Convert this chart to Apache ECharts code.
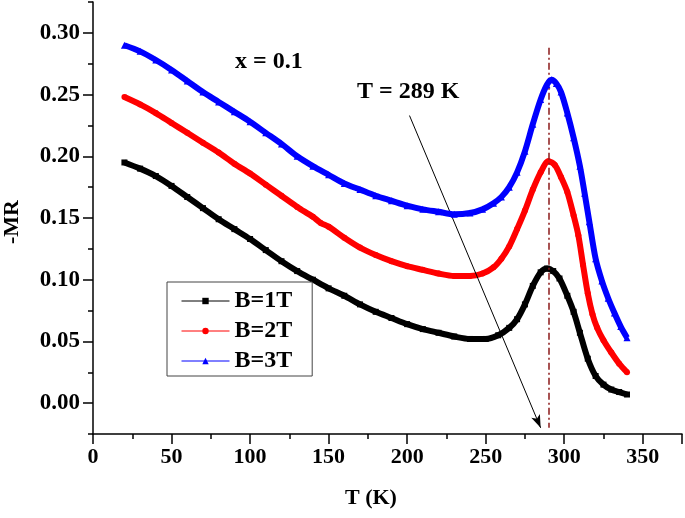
<!DOCTYPE html>
<html>
<head>
<meta charset="utf-8">
<script src="https://cdn.jsdelivr.net/npm/echarts@6/dist/echarts.min.js"></script>
<style>html,body{margin:0;padding:0;background:#fff;}#c{width:685px;height:518px;}</style>
</head>
<body>
<div id="c"></div>
<script>
// ---- data ----
const seriesNames = ['B=1T', 'B=2T', 'B=3T'];

const tB1 = [20,30,40,50,60,70,80,90,100,110,120,130,140,150,160,170,180,190,200,210,220,230,240,250,258,265,270,275,280,285,289,293,297,302,306,310,315,320,325,330,335,340];
const mrB1 = [0.195,0.190,0.184,0.176,0.167,0.158,0.149,0.141,0.133,0.124,0.115,0.107,0.100,0.093,0.087,0.080,0.074,0.069,0.064,0.060,0.057,0.054,0.052,0.052,0.055,0.061,0.068,0.080,0.095,0.106,0.109,0.107,0.101,0.087,0.074,0.057,0.036,0.022,0.015,0.011,0.009,0.007];

const tB2 = [20,30,40,50,60,70,80,90,100,110,120,130,140,145,150,160,170,180,190,200,210,220,230,240,248,255,260,265,270,275,280,285,290,294,298,302,306,309,312,315,318,321,325,330,335,340];
const mrB2 = [0.248,0.242,0.235,0.227,0.219,0.211,0.203,0.194,0.186,0.177,0.168,0.159,0.151,0.146,0.143,0.134,0.126,0.120,0.115,0.111,0.108,0.105,0.103,0.103,0.105,0.110,0.117,0.127,0.141,0.156,0.173,0.187,0.196,0.193,0.183,0.171,0.152,0.136,0.112,0.089,0.072,0.061,0.051,0.041,0.032,0.025];

const tB3 = [20,30,40,50,60,70,80,90,100,110,120,130,140,150,160,170,180,190,200,210,220,230,240,248,255,260,265,270,275,280,285,289,292,295,298,302,306,310,313,316,320,324,328,332,336,340];
const mrB3 = [0.290,0.285,0.278,0.270,0.261,0.252,0.244,0.236,0.228,0.219,0.210,0.200,0.192,0.185,0.178,0.173,0.168,0.164,0.160,0.157,0.155,0.153,0.154,0.157,0.162,0.167,0.175,0.187,0.204,0.226,0.246,0.258,0.262,0.259,0.252,0.235,0.215,0.192,0.170,0.147,0.117,0.099,0.085,0.073,0.062,0.053];

const xTicksMajor = [0,50,100,150,200,250,300,350];
const yTicksMajor = [0,0.05,0.10,0.15,0.20,0.25,0.30];
const yTicksMinor = [-0.025,0.025,0.075,0.125,0.175,0.225,0.275,0.325];

// annotation anchors (data space)
const arrowStart = [201.5, 0.233];
const arrowEnd = [285, -0.020];
const peakLineTop = [290, 0.288];
const peakLineBottom = [290, -0.020];

const colors = ['#000000', '#ff0000', '#0000ff'];
const symbols = ['rect', 'circle', 'triangle'];
const FONT = '"Liberation Serif", "Times New Roman", serif';

function pairs(t, v) { return t.map((x, i) => [x, v[i]]); }
const dataSets = [pairs(tB1, mrB1), pairs(tB2, mrB2), pairs(tB3, mrB3)];

const chart = echarts.init(document.getElementById('c'), null, {renderer: 'canvas'});

const series = dataSets.map((d, i) => ({
  name: seriesNames[i],
  type: 'line',
  data: d,
  xAxisIndex: 0, yAxisIndex: 0,
  smooth: 0.3,
  symbol: symbols[i],
  symbolSize: i === 2 ? 7 : 6,
  showSymbol: true,
  lineStyle: {color: colors[i], width: 6},
  itemStyle: {color: colors[i]},
  z: 3 + i
}));

series[0].markLine = {
  silent: true,
  animation: false,
  label: {show: false},
  symbol: ['none', 'none'],
  data: [
    [
      {coord: arrowStart, symbol: 'none', lineStyle: {color: '#000', width: 1, type: 'solid'}},
      {coord: arrowEnd, symbol: 'arrow', symbolSize: [7, 13]}
    ],
    [
      {coord: peakLineTop, symbol: 'none', lineStyle: {color: '#8b1a1a', width: 1.5, type: [7, 3, 2, 3]}},
      {coord: peakLineBottom, symbol: 'none'}
    ]
  ]
};

const axisLineStyle = {color: '#000', width: 1.5};

chart.setOption({
  animation: false,
  backgroundColor: '#fff',
  grid: {left: 93, right: 2, top: 2, bottom: 84, containLabel: false},
  xAxis: [
    {
      type: 'value', min: 0, max: 375, interval: 25, position: 'bottom',
      axisLine: {show: true, onZero: false, lineStyle: axisLineStyle},
      axisTick: {show: true, length: 5, lineStyle: {color: '#000', width: 1.5}},
      axisLabel: {
        color: '#000', fontFamily: FONT, fontWeight: 'bold', fontSize: 22, margin: 12,
        formatter: v => (xTicksMajor.indexOf(v) >= 0 ? String(v) : '')
      },
      splitLine: {show: false}
    },
    {
      type: 'value', min: 0, max: 375, interval: 50, position: 'bottom',
      axisLine: {show: false, onZero: false},
      axisTick: {show: true, length: 10, lineStyle: {color: '#000', width: 1.5}},
      axisLabel: {show: false},
      splitLine: {show: false}
    }
  ],
  yAxis: [
    {
      type: 'value', min: -0.025, max: 0.325, position: 'left',
      axisLine: {show: true, onZero: false, lineStyle: axisLineStyle},
      axisTick: {show: true, length: 10, customValues: yTicksMajor, lineStyle: {color: '#000', width: 1.5}},
      axisLabel: {
        color: '#000', fontFamily: FONT, fontWeight: 'bold', fontSize: 23, margin: 13,
        customValues: yTicksMajor,
        formatter: v => v.toFixed(2)
      },
      splitLine: {show: false}
    },
    {
      type: 'value', min: -0.025, max: 0.325, position: 'left',
      axisLine: {show: false, onZero: false},
      axisTick: {show: true, length: 5, customValues: yTicksMinor, lineStyle: {color: '#000', width: 1.5}},
      axisLabel: {show: false},
      splitLine: {show: false}
    }
  ],
  legend: {
    show: true,
    orient: 'vertical',
    left: 167, top: 282,
    padding: [7, 20, 3, 14],
    itemGap: 6,
    itemWidth: 48, itemHeight: 8,
    borderColor: '#444', borderWidth: 1,
    backgroundColor: '#fff',
    textStyle: {color: '#000', fontFamily: FONT, fontWeight: 'bold', fontSize: 24},
    data: seriesNames.map((n, i) => ({
      name: n,
      lineStyle: {width: 1, color: colors[i]},
      itemStyle: {color: colors[i]}
    }))
  },
  graphic: [
    {type: 'text', left: 1, top: 200, rotation: Math.PI / 2, style: {text: '-MR', fill: '#000', font: 'bold 22px ' + FONT}},
    {type: 'text', left: 345, top: 487, style: {text: 'T (K)', fill: '#000', font: 'bold 22px ' + FONT}},
    {type: 'text', left: 235, top: 50, style: {text: 'x = 0.1', fill: '#000', font: 'bold 24px ' + FONT}},
    {type: 'text', left: 357, top: 80, style: {text: 'T = 289 K', fill: '#000', font: 'bold 24px ' + FONT}}
  ],
  series: series
});
</script>
</body>
</html>
